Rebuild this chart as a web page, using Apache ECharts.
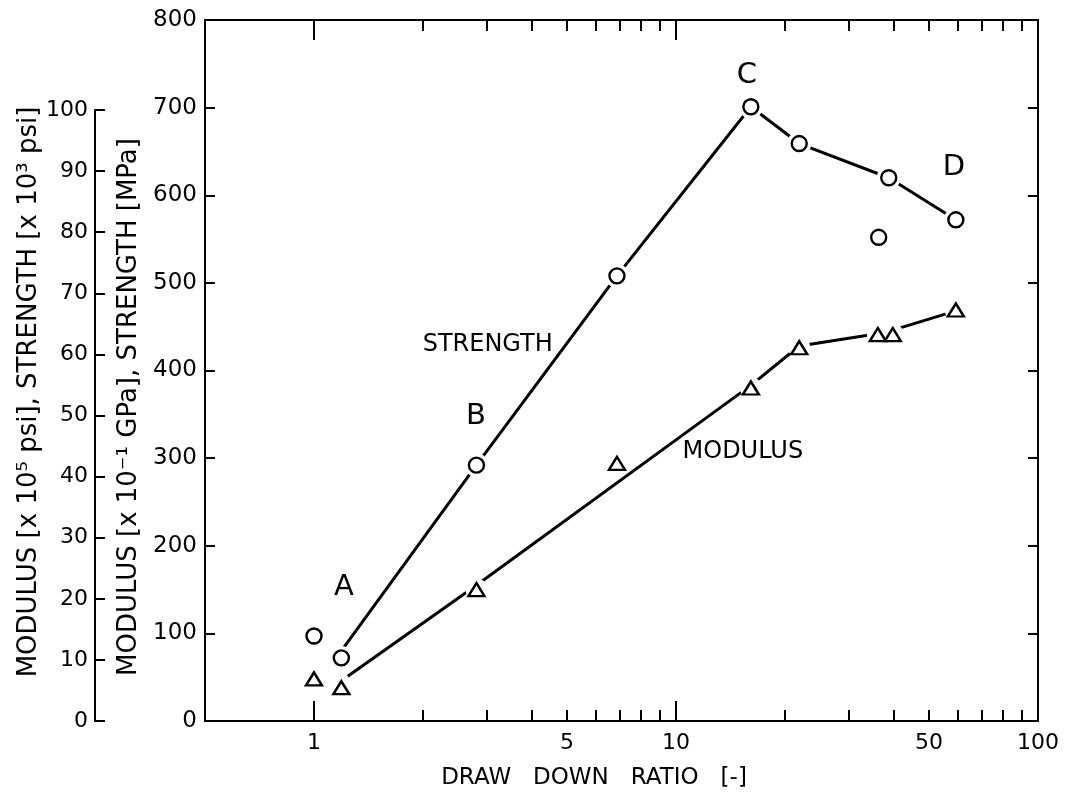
<!DOCTYPE html>
<html><head><meta charset="utf-8">
<script src="https://cdn.jsdelivr.net/npm/echarts@6/dist/echarts.min.js"></script>
<style>html,body{margin:0;padding:0;background:#fff}#c{width:1065px;height:795px}</style>
</head><body><div id="c"></div>
<script>
// ---- data ----
const strengthX = [1.0, 1.19, 2.81, 6.87, 16.1, 21.9, 36.3, 38.7, 59.3];
const strengthY = [97, 72, 292, 508, 701, 659, 552, 620, 572];
const modulusX = [1.0, 1.19, 2.81, 6.87, 16.1, 21.9, 36.1, 39.7, 59.3];
const modulusY = [48, 38, 150, 294, 380, 426, 441, 441, 469];
// drawn trend lines
const strengthLineX = [1.19, 2.81, 6.87, 16.1, 21.9, 38.7, 59.3];
const strengthLineY = [80, 292, 508, 701, 659, 620, 572];
const modulusLineX = [1.24, 2.81, 16.1, 21.9, 37.5, 59.3];
const modulusLineY = [51, 155, 383, 428, 443, 468];
// axis ticks / labels
const xMinorTicks = [2, 3, 4, 5, 6, 7, 8, 9, 20, 30, 40, 50, 60, 70, 80, 90];
const xMajorTicks = [1, 10, 100];
const xTickLabels = [1, 5, 10, 50, 100];
// annotations (text placed in data space)
const annotationText = ['A', 'B', 'C', 'D', 'STRENGTH', 'MODULUS'];
const annotationX = [1.21, 2.80, 15.7, 58.6, 3.02, 15.3];
const annotationY = [152, 347, 737, 632, 429, 307];

const FONT = '"DejaVu Sans", sans-serif';
const INK = '#000';
const axisLineStyle = { color: INK, width: 2 };

const zip = (xs, ys) => xs.map((x, i) => [x, ys[i]]);

const chart = echarts.init(document.getElementById('c'), null, { renderer: 'canvas' });

const logAxisBase = {
  gridIndex: 0, type: 'log', logBase: 10, min: 0.5, max: 100,
  splitLine: { show: false }, minorTick: { show: false }
};

chart.setOption({
  backgroundColor: '#fff',
  animation: false,
  textStyle: { fontFamily: FONT, color: INK },
  grid: [
    { left: 205, right: 27, top: 20, bottom: 74 },
    { left: 95, width: 1, top: 110, bottom: 74 }
  ],
  xAxis: [
    Object.assign({}, logAxisBase, {
      position: 'bottom',
      axisLine: { show: true, onZero: false, lineStyle: axisLineStyle },
      axisTick: { show: true, inside: true, length: 11, customValues: xMinorTicks, lineStyle: axisLineStyle },
      axisLabel: { show: true, customValues: xTickLabels, color: INK, fontSize: 22, margin: 11, fontFamily: FONT },
      name: 'DRAW   DOWN   RATIO   [-]',
      nameLocation: 'middle', nameGap: 46,
      nameTextStyle: { color: INK, fontSize: 23, fontFamily: FONT, padding: [0, 55, 0, 0] }
    }),
    Object.assign({}, logAxisBase, {
      position: 'bottom',
      axisLine: { show: false, onZero: false },
      axisTick: { show: true, inside: true, length: 20, customValues: xMajorTicks, lineStyle: axisLineStyle },
      axisLabel: { show: false }
    }),
    Object.assign({}, logAxisBase, {
      position: 'top',
      axisLine: { show: true, onZero: false, lineStyle: axisLineStyle },
      axisTick: { show: true, inside: true, length: 11, customValues: xMinorTicks, lineStyle: axisLineStyle },
      axisLabel: { show: false }
    }),
    Object.assign({}, logAxisBase, {
      position: 'top',
      axisLine: { show: false, onZero: false },
      axisTick: { show: true, inside: true, length: 20, customValues: xMajorTicks, lineStyle: axisLineStyle },
      axisLabel: { show: false }
    }),
    { gridIndex: 1, type: 'value', show: false }
  ],
  yAxis: [
    {
      gridIndex: 0, type: 'value', min: 0, max: 800, interval: 100, position: 'left',
      axisLine: { show: true, onZero: false, lineStyle: axisLineStyle },
      axisTick: { show: true, inside: true, length: 10, lineStyle: axisLineStyle },
      axisLabel: { color: INK, fontSize: 23, margin: 8, fontFamily: FONT },
      splitLine: { show: false },
      name: 'MODULUS [x 10⁻¹ GPa], STRENGTH [MPa]',
      nameLocation: 'middle', nameGap: 48, nameRotate: 90,
      nameTextStyle: { color: INK, fontSize: 26, fontFamily: FONT, padding: [0, 73, 0, 0] }
    },
    {
      gridIndex: 0, type: 'value', min: 0, max: 800, interval: 100, position: 'right',
      axisLine: { show: true, onZero: false, lineStyle: axisLineStyle },
      axisTick: { show: true, inside: true, length: 10, lineStyle: axisLineStyle },
      axisLabel: { show: false },
      splitLine: { show: false }
    },
    {
      gridIndex: 1, type: 'value', min: 0, max: 100, interval: 10, position: 'left',
      axisLine: { show: true, onZero: false, lineStyle: axisLineStyle },
      axisTick: { show: true, inside: true, length: 10, lineStyle: axisLineStyle },
      axisLabel: { color: INK, fontSize: 22, margin: 7, fontFamily: FONT },
      splitLine: { show: false },
      name: 'MODULUS [x 10⁵ psi], STRENGTH [x 10³ psi]',
      nameLocation: 'middle', nameGap: 44, nameRotate: 90,
      nameTextStyle: { color: INK, fontSize: 26, fontFamily: FONT, padding: [0, 0, 0, 47] }
    }
  ],
  series: [
    {
      type: 'line', xAxisIndex: 0, yAxisIndex: 0, z: 2,
      data: zip(strengthLineX, strengthLineY), symbol: 'none',
      lineStyle: { color: INK, width: 3 }, silent: true
    },
    {
      type: 'line', xAxisIndex: 0, yAxisIndex: 0, z: 2,
      data: zip(modulusLineX, modulusLineY), symbol: 'none',
      lineStyle: { color: INK, width: 3 }, silent: true
    },
    { // white halos that break the lines around the markers
      type: 'scatter', xAxisIndex: 0, yAxisIndex: 0, z: 3, silent: true,
      data: zip(strengthX, strengthY), symbol: 'circle', symbolSize: 24,
      itemStyle: { color: '#fff', opacity: 1 }
    },
    {
      type: 'scatter', xAxisIndex: 0, yAxisIndex: 0, z: 3, silent: true,
      data: zip(modulusX, modulusY), symbol: 'circle', symbolSize: 22,
      itemStyle: { color: '#fff', opacity: 1 }
    },
    {
      type: 'scatter', name: 'STRENGTH', xAxisIndex: 0, yAxisIndex: 0, z: 4,
      data: zip(strengthX, strengthY), symbol: 'circle', symbolSize: 15,
      itemStyle: { color: '#fff', borderColor: INK, borderWidth: 2.4, opacity: 1 }
    },
    {
      type: 'scatter', name: 'MODULUS', xAxisIndex: 0, yAxisIndex: 0, z: 4,
      data: zip(modulusX, modulusY), symbol: 'triangle', symbolSize: [16, 13],
      itemStyle: { color: '#fff', borderColor: INK, borderWidth: 2.4, opacity: 1 }
    },
    {
      type: 'scatter', xAxisIndex: 0, yAxisIndex: 0, z: 5, silent: true,
      symbolSize: 1, itemStyle: { color: '#fff', opacity: 0 },
      data: annotationX.map((x, i) => ({
        value: [x, annotationY[i]], name: annotationText[i],
        label: { fontSize: annotationText[i].length === 1 ? 29 : 24 }
      })),
      label: {
        show: true, position: 'inside', color: INK, opacity: 1, fontFamily: FONT,
        formatter: p => p.name
      }
    }
  ]
});
</script></body></html>
